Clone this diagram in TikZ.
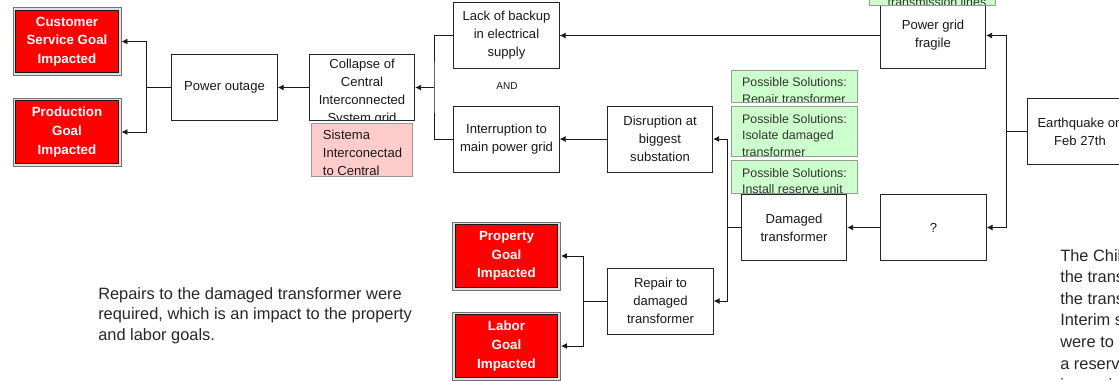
\documentclass[tikz,border=0pt]{standalone}
\usepackage{fontspec}
\setmainfont{Liberation Sans}
\usetikzlibrary{positioning,arrows.meta}

\definecolor{goalred}{HTML}{FF0000}
\definecolor{solgreen}{HTML}{CCFFCC}
\definecolor{notepink}{HTML}{FFCCCC}
\definecolor{edgegray}{HTML}{999999}

\begin{document}
\begin{tikzpicture}[
  x=0.75pt, y=-0.75pt,
  box/.style={draw=black!85, fill=white, line width=0.7pt, align=center, minimum width=79pt, minimum height=49.5pt, inner sep=1pt, text=black!90, font=\fontsize{9.8}{13.5}\selectfont},
  goal/.style={draw=black!55, fill=black!12, line width=0.7pt, align=center, minimum width=81pt, minimum height=51pt, text=white, font=\fontsize{10}{14}\selectfont\bfseries,
    path picture={\draw[fill=goalred, draw=black!90, line width=0.8pt] ([shift={(2.2pt,-2.2pt)}]path picture bounding box.north west) rectangle ([shift={(-2.2pt,2.2pt)}]path picture bounding box.south east);}},
  sol/.style={draw=edgegray, fill=solgreen, line width=0.7pt, minimum width=94.5pt, inner sep=0pt},
  soltext/.style={anchor=north west, align=left, inner xsep=3.5pt, inner ysep=5.5pt, text=black!80, font=\fontsize{9.3}{12.2}\selectfont},
  flow/.style={-{Latex[length=4.5pt,width=4.5pt]}, line width=0.65pt, black!90},
  link/.style={line width=0.65pt, black!90},
  remark/.style={anchor=north west, align=left, inner sep=0pt, text=black!85}
]
\useasboundingbox (0,0) rectangle (1119,380);
\clip (0,0) rectangle (1119,380);

\node[goal] (custgoal) at (67,41.5) {Customer\\Service Goal\\Impacted};
\node[goal] (prodgoal) at (67,132) {Production\\Goal\\Impacted};
\node[box] (outage) at (224.5,87.5) {Power outage};
\node[box, path picture={\node[anchor=north, align=center, inner sep=3pt, text=black!90, font=\fontsize{9.8}{13.5}\selectfont] (collapsetext) at (path picture bounding box.north) {Collapse of\\Central\\Interconnected\\System grid};}] (collapse) at (362,87.5) {};
\node[draw=edgegray, fill=notepink, line width=0.7pt, minimum width=75.75pt, minimum height=39.75pt, inner sep=0pt, below=1.5pt of collapse,
  path picture={\node[anchor=north west, align=left, inner xsep=3pt, inner ysep=4.5pt, text=black!90, font=\fontsize{9.8}{13.5}\selectfont] (sistematext) at (path picture bounding box.north west) {Sistema\\Interconectad\\to Central};}] (sistema) {};

\node[box] (lack) at (506.5,35.5) {Lack of backup\\in electrical\\supply};
\node[box] (interr) at (506.5,139) {Interruption to\\main power grid};
\node[font=\fontsize{7.5}{9}\selectfont, text=black!90] (andlabel) at (507,86) {AND};
\node[box] (disrupt) at (660,139) {Disruption at\\biggest\\substation};

\node[sol, minimum height=24pt, path picture={\node[soltext] (sol1text) at (path picture bounding box.north west) {Possible Solutions:\\Repair transformer};}] (sol1) at (794,86) {};
\node[sol, minimum height=37.5pt, below=3pt of sol1, path picture={\node[soltext] (sol2text) at (path picture bounding box.north west) {Possible Solutions:\\Isolate damaged\\transformer};}] (sol2) {};
\node[sol, minimum height=24.75pt, below=2.25pt of sol2, path picture={\node[soltext] (sol3text) at (path picture bounding box.north west) {Possible Solutions:\\Install reserve unit};}] (sol3) {};

\node[box] (fragile) at (933,35.5) {Power grid\\fragile};
\node[sol, minimum height=37.5pt, anchor=south, path picture={\node[anchor=base west, inner sep=0pt, text=black!80, font=\fontsize{9.3}{12}\selectfont] (sol0text) at ([shift={(3pt,-1pt)}]path picture bounding box.south west) {transmission lines};}] (sol0) at (932.5,6) {};
\node[box] (earthquake) at (1080,131.5) {Earthquake on\\Feb 27th};
\node[box] (unknown) at (933.5,227.5) {?};
\node[box] (damaged) at (794,227.5) {Damaged\\transformer};
\node[box] (repair) at (660.5,301) {Repair to\\damaged\\transformer};
\node[goal] (propgoal) at (506.5,256) {Property\\Goal\\Impacted};
\node[goal] (laborgoal) at (506.5,346) {Labor\\Goal\\Impacted};

\node[remark, font=\fontsize{12.3}{15.4}\selectfont] (repairnote) at (98,287) {Repairs to the damaged transformer were\\required, which is an impact to the property\\and labor goals.};
\node[remark, font=\fontsize{12.3}{16.2}\selectfont] (chilenote) at (1060,249) {The Chilean utility had to repair\\the transformer or replace\\the transformer entirely.\\Interim solutions\\were to isolate it and install\\a reserve unit\\in service.};

\coordinate (outsplit) at (146,87.5);
\coordinate (andjoin) at (434,87.5);
\coordinate (quakesplit) at (1006,131.5);
\coordinate (damagesplit) at (727,227.5);
\coordinate (repairsplit) at (583,301);

\draw[link] (outage.west) -- (outsplit);
\draw[flow] (outsplit) |- (custgoal);
\draw[flow] (outsplit) |- (prodgoal);
\draw[flow] (collapse) -- (outage);
\draw[link] (lack.west) -| (andjoin) |- (interr.west);
\draw[flow] (andjoin) -- (collapse);
\draw[flow] (fragile) -- (lack);
\draw[flow] (disrupt) -- (interr);
\draw[link] (earthquake) -- (quakesplit);
\draw[flow] (quakesplit) |- (fragile);
\draw[flow] (quakesplit) |- (unknown);
\draw[flow] (unknown) -- (damaged);
\draw[link] (damaged) -- (damagesplit);
\draw[flow] (damagesplit) |- (disrupt);
\draw[flow] (damagesplit) |- (repair);
\draw[link] (repair) -- (repairsplit);
\draw[flow] (repairsplit) |- (propgoal);
\draw[flow] (repairsplit) |- (laborgoal);
\end{tikzpicture}
\end{document}
